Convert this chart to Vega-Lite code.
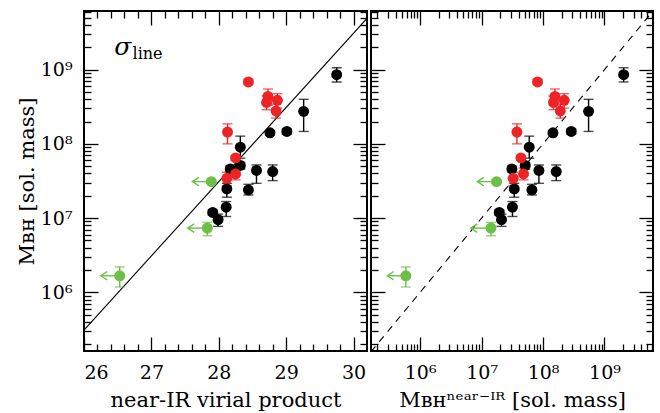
{
  "$schema": "https://vega.github.io/schema/vega-lite/v6.json",
  "background": "white",
  "padding": {"left": 15, "top": 9, "right": 5, "bottom": 0},
  "spacing": 0,
  "datasets": {
    "pts": [
      {"g": "black", "vp": 29.75, "mir": 2.05e9, "m": 8.55e8, "lo": 6.82e8, "hi": 1.06e9},
      {"g": "black", "vp": 29.26, "mir": 5.51e8, "m": 2.74e8, "lo": 1.47e8, "hi": 3.98e8},
      {"g": "black", "vp": 29.01, "mir": 2.88e8, "m": 1.47e8, "lo": 1.35e8, "hi": 1.59e8},
      {"g": "black", "vp": 28.76, "mir": 1.45e8, "m": 1.41e8, "lo": 1.32e8, "hi": 1.51e8},
      {"g": "black", "vp": 28.32, "mir": 5.96e7, "m": 9.02e7, "lo": 6.41e7, "hi": 1.27e8},
      {"g": "black", "vp": 28.32, "mir": 5.13e7, "m": 5.11e7, "lo": 4.57e7, "hi": 5.62e7},
      {"g": "black", "vp": 28.17, "mir": 3.11e7, "m": 4.59e7, "lo": 4.17e7, "hi": 5.01e7},
      {"g": "black", "vp": 28.56, "mir": 8.57e7, "m": 4.38e7, "lo": 2.94e7, "hi": 5.2e7},
      {"g": "black", "vp": 28.80, "mir": 1.64e8, "m": 4.24e7, "lo": 3.2e7, "hi": 5.2e7},
      {"g": "black", "vp": 28.12, "mir": 3.4e7, "m": 2.47e7, "lo": 1.91e7, "hi": 2.94e7},
      {"g": "black", "vp": 28.44, "mir": 6.59e7, "m": 2.39e7, "lo": 2.05e7, "hi": 2.85e7},
      {"g": "black", "vp": 28.11, "mir": 3.18e7, "m": 1.4e7, "lo": 1.05e7, "hi": 1.67e7},
      {"g": "black", "vp": 27.91, "mir": 1.94e7, "m": 1.19e7, "lo": 1.1e7, "hi": 1.29e7},
      {"g": "black", "vp": 27.99, "mir": 2.11e7, "m": 9.51e6, "lo": 7.73e6, "hi": 1.13e7},
      {"g": "red", "vp": 28.44, "mir": 8.13e7, "m": 6.82e8, "lo": 6.31e8, "hi": 7.41e8},
      {"g": "red", "vp": 28.73, "mir": 1.56e8, "m": 4.35e8, "lo": 3.33e8, "hi": 5.48e8},
      {"g": "red", "vp": 28.71, "mir": 1.48e8, "m": 3.61e8, "lo": 2.88e8, "hi": 4.42e8},
      {"g": "red", "vp": 28.87, "mir": 2.21e8, "m": 3.86e8, "lo": 3.03e8, "hi": 4.74e8},
      {"g": "red", "vp": 28.85, "mir": 1.91e8, "m": 2.77e8, "lo": 2.22e8, "hi": 3.44e8},
      {"g": "red", "vp": 28.13, "mir": 3.76e7, "m": 1.44e8, "lo": 1.0e8, "hi": 1.86e8},
      {"g": "red", "vp": 28.25, "mir": 4.37e7, "m": 6.47e7, "lo": 6.03e7, "hi": 6.92e7},
      {"g": "red", "vp": 28.25, "mir": 4.81e7, "m": 3.94e7, "lo": 3.27e7, "hi": 4.73e7},
      {"g": "red", "vp": 28.12, "mir": 3.27e7, "m": 3.44e7, "lo": 2.74e7, "hi": 4.15e7},
      {"g": "green", "vp": 26.53, "mir": 5.85e5, "m": 1.67e6, "lo": 1.18e6, "hi": 2.2e6, "vpa": 26.25, "mira": 2.93e5},
      {"g": "green", "vp": 27.83, "mir": 1.42e7, "m": 7.33e6, "lo": 5.78e6, "hi": 8.75e6, "vpa": 27.54, "mira": 6.7e6},
      {"g": "green", "vp": 27.89, "mir": 1.75e7, "m": 3.1e7, "lo": 2.95e7, "hi": 3.25e7, "vpa": 27.61, "mira": 8.57e6}
    ],
    "lineL": [
      {"vp": 26.0, "m": 3.09e5},
      {"vp": 30.2, "m": 4.9e9}
    ],
    "lineR": [
      {"mir": 1.585e5, "m": 1.585e5},
      {"mir": 6.16e9, "m": 6.16e9}
    ]
  },
  "hconcat": [
    {
      "width": 283,
      "height": 340,
      "resolve": {"axis": {"x": "independent", "y": "independent"}},
      "layer": [
        {
          "data": {"name": "lineL"},
          "mark": {"type": "line", "color": "#000", "strokeWidth": 1.1, "clip": true},
          "encoding": {
            "x": {"field": "vp", "type": "quantitative", "scale": {"domain": [26, 30.2], "nice": false, "zero": false},
                  "axis": {"orient": "bottom", "values": [26, 27, 28, 29, 30], "ticks": false, "labelPadding": 12, "format": "d", "title": "near-IR virial product", "titlePadding": 7}},
            "y": {"field": "m", "type": "quantitative", "scale": {"type": "log", "domain": [162000, 6160000000], "nice": false},
                  "axis": {"orient": "left", "values": [1000000, 10000000, 100000000, 1000000000], "ticks": false, "labelPadding": 12,
                           "labelExpr": "datum.value < 3e6 ? '10⁶' : datum.value < 3e7 ? '10⁷' : datum.value < 3e8 ? '10⁸' : '10⁹'",
                           "title": "Mʙʜ [sol. mass]", "titlePadding": 3}}
          }
        },
        {
          "data": {"name": "pts"},
          "mark": {"type": "rule", "strokeWidth": 1.4},
          "encoding": {
            "x": {"field": "vp", "type": "quantitative", "scale": {"domain": [26, 30.2], "nice": false, "zero": false},
                  "axis": {"orient": "bottom", "values": [26, 27, 28, 29, 30], "labels": false, "tickSize": -14, "title": null}},
            "y": {"field": "lo", "type": "quantitative", "scale": {"type": "log", "domain": [162000, 6160000000], "nice": false},
                  "axis": {"orient": "left", "values": [1000000, 10000000, 100000000, 1000000000], "labels": false, "tickSize": -14, "title": null}},
            "y2": {"field": "hi"},
            "color": {"field": "g", "type": "nominal", "scale": {"domain": ["black", "red", "green"], "range": ["#000000", "#ee2326", "#6cbf47"]}, "legend": null}
          }
        },
        {
          "data": {"name": "pts"},
          "mark": {"type": "tick", "orient": "horizontal", "size": 10, "thickness": 1.4},
          "encoding": {
            "x": {"field": "vp", "type": "quantitative", "scale": {"domain": [26, 30.2], "nice": false, "zero": false},
                  "axis": {"orient": "bottom", "values": [26.2, 26.4, 26.6, 26.8, 27.2, 27.4, 27.6, 27.8, 28.2, 28.4, 28.6, 28.8, 29.2, 29.4, 29.6, 29.8], "labels": false, "tickSize": -7, "title": null}},
            "y": {"field": "lo", "type": "quantitative", "scale": {"type": "log", "domain": [162000, 6160000000], "nice": false},
                  "axis": {"orient": "left", "values": [200000, 300000, 400000, 500000, 600000, 700000, 800000, 900000, 2000000, 3000000, 4000000, 5000000, 6000000, 7000000, 8000000, 9000000, 20000000, 30000000, 40000000, 50000000, 60000000, 70000000, 80000000, 90000000, 200000000, 300000000, 400000000, 500000000, 600000000, 700000000, 800000000, 900000000, 2000000000, 3000000000, 4000000000, 5000000000, 6000000000], "labels": false, "tickSize": -7, "title": null}},
            "color": {"field": "g", "type": "nominal", "scale": {"domain": ["black", "red", "green"], "range": ["#000000", "#ee2326", "#6cbf47"]}, "legend": null}
          }
        },
        {
          "data": {"name": "pts"},
          "mark": {"type": "tick", "orient": "horizontal", "size": 10, "thickness": 1.4},
          "encoding": {
            "x": {"field": "vp", "type": "quantitative", "scale": {"domain": [26, 30.2], "nice": false, "zero": false},
                  "axis": {"orient": "top", "values": [26, 27, 28, 29, 30], "labels": false, "tickSize": -14, "title": null}},
            "y": {"field": "hi", "type": "quantitative", "scale": {"type": "log", "domain": [162000, 6160000000], "nice": false},
                  "axis": {"orient": "right", "values": [1000000, 10000000, 100000000, 1000000000], "labels": false, "tickSize": -14, "title": null}},
            "color": {"field": "g", "type": "nominal", "scale": {"domain": ["black", "red", "green"], "range": ["#000000", "#ee2326", "#6cbf47"]}, "legend": null}
          }
        },
        {
          "data": {"name": "pts"},
          "transform": [{"filter": "isValid(datum.vpa)"}],
          "mark": {"type": "rule", "strokeWidth": 1.4, "color": "#6cbf47"},
          "encoding": {
            "x": {"field": "vp", "type": "quantitative", "scale": {"domain": [26, 30.2], "nice": false, "zero": false},
                  "axis": {"orient": "top", "values": [26.2, 26.4, 26.6, 26.8, 27.2, 27.4, 27.6, 27.8, 28.2, 28.4, 28.6, 28.8, 29.2, 29.4, 29.6, 29.8], "labels": false, "tickSize": -7, "title": null}},
            "x2": {"field": "vpa"},
            "y": {"field": "m", "type": "quantitative", "scale": {"type": "log", "domain": [162000, 6160000000], "nice": false},
                  "axis": {"orient": "right", "values": [200000, 300000, 400000, 500000, 600000, 700000, 800000, 900000, 2000000, 3000000, 4000000, 5000000, 6000000, 7000000, 8000000, 9000000, 20000000, 30000000, 40000000, 50000000, 60000000, 70000000, 80000000, 90000000, 200000000, 300000000, 400000000, 500000000, 600000000, 700000000, 800000000, 900000000, 2000000000, 3000000000, 4000000000, 5000000000, 6000000000], "labels": false, "tickSize": -7, "title": null}}
          }
        },
        {
          "data": {"name": "pts"},
          "transform": [{"filter": "isValid(datum.vpa)"}],
          "mark": {"type": "point", "shape": "M 1.5 -1 L 0 0 L 1.5 1", "filled": false, "size": 72, "strokeWidth": 1.4, "color": "#6cbf47", "opacity": 1},
          "encoding": {
            "x": {"field": "vpa", "type": "quantitative", "scale": {"domain": [26, 30.2], "nice": false, "zero": false}, "axis": null},
            "y": {"field": "m", "type": "quantitative", "scale": {"type": "log", "domain": [162000, 6160000000], "nice": false}, "axis": null}
          }
        },
        {
          "data": {"name": "pts"},
          "mark": {"type": "circle", "size": 120, "opacity": 1},
          "encoding": {
            "x": {"field": "vp", "type": "quantitative", "scale": {"domain": [26, 30.2], "nice": false, "zero": false}, "axis": null},
            "y": {"field": "m", "type": "quantitative", "scale": {"type": "log", "domain": [162000, 6160000000], "nice": false}, "axis": null},
            "color": {"field": "g", "type": "nominal", "scale": {"domain": ["black", "red", "green"], "range": ["#000000", "#ee2326", "#6cbf47"]}, "legend": null}
          }
        },
        {
          "data": {"values": [{}]},
          "mark": {"type": "text", "text": "σ", "fontSize": 25, "fontStyle": "italic", "font": "DejaVu Serif", "align": "left", "baseline": "middle", "color": "#000"},
          "encoding": {
            "x": {"datum": 26.45, "type": "quantitative", "scale": {"domain": [26, 30.2], "nice": false, "zero": false}, "axis": null},
            "y": {"datum": 2030000000, "type": "quantitative", "scale": {"type": "log", "domain": [162000, 6160000000], "nice": false}, "axis": null}
          }
        },
        {
          "data": {"values": [{}]},
          "mark": {"type": "text", "text": "line", "fontSize": 16, "font": "DejaVu Serif", "align": "left", "baseline": "middle", "color": "#000"},
          "encoding": {
            "x": {"datum": 26.72, "type": "quantitative", "scale": {"domain": [26, 30.2], "nice": false, "zero": false}, "axis": null},
            "y": {"datum": 1630000000, "type": "quantitative", "scale": {"type": "log", "domain": [162000, 6160000000], "nice": false}, "axis": null}
          }
        }
      ]
    },
    {
      "width": 282,
      "height": 340,
      "resolve": {"axis": {"x": "independent", "y": "independent"}},
      "layer": [
        {
          "data": {"name": "lineR"},
          "mark": {"type": "line", "color": "#000", "strokeWidth": 1.1, "strokeDash": [7, 6], "clip": true},
          "encoding": {
            "x": {"field": "mir", "type": "quantitative", "scale": {"type": "log", "domain": [158500, 6160000000], "nice": false},
                  "axis": {"orient": "bottom", "values": [1000000, 10000000, 100000000, 1000000000], "ticks": false, "labelPadding": 12,
                           "labelExpr": "datum.value < 3e6 ? '10⁶' : datum.value < 3e7 ? '10⁷' : datum.value < 3e8 ? '10⁸' : '10⁹'",
                           "title": "Mʙʜⁿᵉᵃʳ⁻ᴵᴿ [sol. mass]", "titlePadding": 7}},
            "y": {"field": "m", "type": "quantitative", "scale": {"type": "log", "domain": [162000, 6160000000], "nice": false},
                  "axis": {"orient": "left", "values": [1000000, 10000000, 100000000, 1000000000], "labels": false, "tickSize": -14, "title": null}}
          }
        },
        {
          "data": {"name": "pts"},
          "mark": {"type": "rule", "strokeWidth": 1.4},
          "encoding": {
            "x": {"field": "mir", "type": "quantitative", "scale": {"type": "log", "domain": [158500, 6160000000], "nice": false},
                  "axis": {"orient": "bottom", "values": [1000000, 10000000, 100000000, 1000000000], "labels": false, "tickSize": -14, "title": null}},
            "y": {"field": "lo", "type": "quantitative", "scale": {"type": "log", "domain": [162000, 6160000000], "nice": false},
                  "axis": {"orient": "left", "values": [200000, 300000, 400000, 500000, 600000, 700000, 800000, 900000, 2000000, 3000000, 4000000, 5000000, 6000000, 7000000, 8000000, 9000000, 20000000, 30000000, 40000000, 50000000, 60000000, 70000000, 80000000, 90000000, 200000000, 300000000, 400000000, 500000000, 600000000, 700000000, 800000000, 900000000, 2000000000, 3000000000, 4000000000, 5000000000, 6000000000], "labels": false, "tickSize": -7, "title": null}},
            "y2": {"field": "hi"},
            "color": {"field": "g", "type": "nominal", "scale": {"domain": ["black", "red", "green"], "range": ["#000000", "#ee2326", "#6cbf47"]}, "legend": null}
          }
        },
        {
          "data": {"name": "pts"},
          "mark": {"type": "tick", "orient": "horizontal", "size": 10, "thickness": 1.4},
          "encoding": {
            "x": {"field": "mir", "type": "quantitative", "scale": {"type": "log", "domain": [158500, 6160000000], "nice": false},
                  "axis": {"orient": "bottom", "values": [200000, 300000, 400000, 500000, 600000, 700000, 800000, 900000, 2000000, 3000000, 4000000, 5000000, 6000000, 7000000, 8000000, 9000000, 20000000, 30000000, 40000000, 50000000, 60000000, 70000000, 80000000, 90000000, 200000000, 300000000, 400000000, 500000000, 600000000, 700000000, 800000000, 900000000, 2000000000, 3000000000, 4000000000, 5000000000, 6000000000], "labels": false, "tickSize": -7, "title": null}},
            "y": {"field": "lo", "type": "quantitative", "scale": {"type": "log", "domain": [162000, 6160000000], "nice": false},
                  "axis": {"orient": "right", "values": [1000000, 10000000, 100000000, 1000000000], "labels": false, "tickSize": -14, "title": null}},
            "color": {"field": "g", "type": "nominal", "scale": {"domain": ["black", "red", "green"], "range": ["#000000", "#ee2326", "#6cbf47"]}, "legend": null}
          }
        },
        {
          "data": {"name": "pts"},
          "mark": {"type": "tick", "orient": "horizontal", "size": 10, "thickness": 1.4},
          "encoding": {
            "x": {"field": "mir", "type": "quantitative", "scale": {"type": "log", "domain": [158500, 6160000000], "nice": false},
                  "axis": {"orient": "top", "values": [1000000, 10000000, 100000000, 1000000000], "labels": false, "tickSize": -14, "title": null}},
            "y": {"field": "hi", "type": "quantitative", "scale": {"type": "log", "domain": [162000, 6160000000], "nice": false},
                  "axis": {"orient": "right", "values": [200000, 300000, 400000, 500000, 600000, 700000, 800000, 900000, 2000000, 3000000, 4000000, 5000000, 6000000, 7000000, 8000000, 9000000, 20000000, 30000000, 40000000, 50000000, 60000000, 70000000, 80000000, 90000000, 200000000, 300000000, 400000000, 500000000, 600000000, 700000000, 800000000, 900000000, 2000000000, 3000000000, 4000000000, 5000000000, 6000000000], "labels": false, "tickSize": -7, "title": null}},
            "color": {"field": "g", "type": "nominal", "scale": {"domain": ["black", "red", "green"], "range": ["#000000", "#ee2326", "#6cbf47"]}, "legend": null}
          }
        },
        {
          "data": {"name": "pts"},
          "transform": [{"filter": "isValid(datum.mira)"}],
          "mark": {"type": "rule", "strokeWidth": 1.4, "color": "#6cbf47"},
          "encoding": {
            "x": {"field": "mir", "type": "quantitative", "scale": {"type": "log", "domain": [158500, 6160000000], "nice": false},
                  "axis": {"orient": "top", "values": [200000, 300000, 400000, 500000, 600000, 700000, 800000, 900000, 2000000, 3000000, 4000000, 5000000, 6000000, 7000000, 8000000, 9000000, 20000000, 30000000, 40000000, 50000000, 60000000, 70000000, 80000000, 90000000, 200000000, 300000000, 400000000, 500000000, 600000000, 700000000, 800000000, 900000000, 2000000000, 3000000000, 4000000000, 5000000000, 6000000000], "labels": false, "tickSize": -7, "title": null}},
            "x2": {"field": "mira"},
            "y": {"field": "m", "type": "quantitative", "scale": {"type": "log", "domain": [162000, 6160000000], "nice": false}, "axis": null}
          }
        },
        {
          "data": {"name": "pts"},
          "transform": [{"filter": "isValid(datum.mira)"}],
          "mark": {"type": "point", "shape": "M 1.5 -1 L 0 0 L 1.5 1", "filled": false, "size": 72, "strokeWidth": 1.4, "color": "#6cbf47", "opacity": 1},
          "encoding": {
            "x": {"field": "mira", "type": "quantitative", "scale": {"type": "log", "domain": [158500, 6160000000], "nice": false}, "axis": null},
            "y": {"field": "m", "type": "quantitative", "scale": {"type": "log", "domain": [162000, 6160000000], "nice": false}, "axis": null}
          }
        },
        {
          "data": {"name": "pts"},
          "mark": {"type": "circle", "size": 120, "opacity": 1},
          "encoding": {
            "x": {"field": "mir", "type": "quantitative", "scale": {"type": "log", "domain": [158500, 6160000000], "nice": false}, "axis": null},
            "y": {"field": "m", "type": "quantitative", "scale": {"type": "log", "domain": [162000, 6160000000], "nice": false}, "axis": null},
            "color": {"field": "g", "type": "nominal", "scale": {"domain": ["black", "red", "green"], "range": ["#000000", "#ee2326", "#6cbf47"]}, "legend": null}
          }
        }
      ]
    }
  ],
  "config": {
    "view": {"stroke": "#000", "strokeWidth": 2},
    "font": "DejaVu Serif",
    "axis": {
      "grid": false,
      "domain": false,
      "labelFont": "DejaVu Serif",
      "labelFontSize": 19,
      "labelColor": "#000",
      "titleFont": "DejaVu Serif",
      "titleFontSize": 21,
      "titleFontWeight": "normal",
      "titleColor": "#000",
      "tickColor": "#000",
      "tickWidth": 1.3
    }
  }
}
